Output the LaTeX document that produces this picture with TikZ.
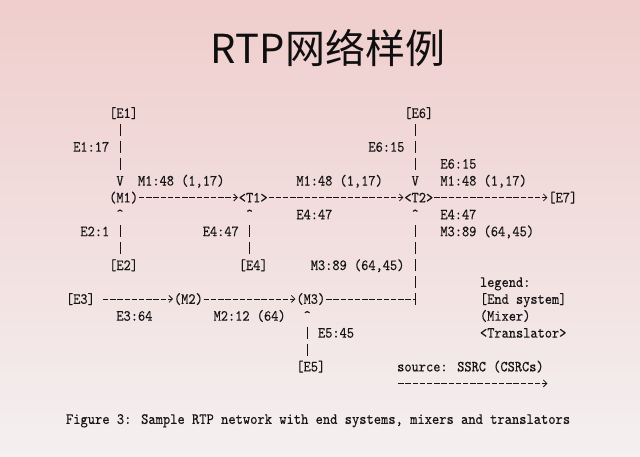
\documentclass[tikz,border=0pt]{standalone}
\usepackage{fontspec}
\usetikzlibrary{arrows.meta}
\newfontfamily\gmono{lmmono10-regular.otf}[FakeStretch=0.885,FakeBold=0.25]
\newfontfamily\cjkfont{Noto Sans CJK SC}
\definecolor{inkc}{RGB}{22,20,20}
\definecolor{titlec}{RGB}{16,14,14}
\definecolor{bgtop}{RGB}{239,206,205}
\definecolor{bgmid}{RGB}{242,222,222}
\definecolor{bgbot}{RGB}{244,240,240}
\tikzset{
  txt/.style={font=\gmono\fontsize{15.5}{16.9}\selectfont, text=inkc, inner sep=0pt, outer sep=0pt,
    text height=13.35pt, text depth=3.55pt, anchor=west},
  hplain/.style={draw=inkc, line width=0.8pt, dash pattern=on 5.4pt off 1.8pt, dash phase=6.3pt},
  hline/.style={hplain, -{Straight Barb[length=3.5pt,width=7pt]}, shorten >=1pt},
  vline/.style={draw=inkc, line width=0.8pt, dash pattern=on 12pt off 4.9pt, dash phase=14.45pt},
}
\begin{document}
\begin{tikzpicture}
\useasboundingbox (0,0) rectangle (640pt,-456pt);
\shade[top color=bgtop, bottom color=bgbot, middle color=bgmid] (0,0) rectangle (640pt,-456pt);
\node[font=\cjkfont\fontsize{40}{48}\selectfont, text=titlec, inner sep=0pt] (title) at (328pt,-48pt) {RTP网络样例};
\node[txt, font=\gmono\fontsize{15.65}{18}\selectfont] (cap) at (66pt,-419pt) {Figure 3: Sample RTP network with end systems, mixers and translators};
\begin{scope}[x=7.2pt, y=-16.9pt, shift={(66pt,-113pt)}]
\node[txt] (E1) at (6,0) {[E1]};
\node[txt] (E6) at (47,0) {[E6]};
\node[txt] (l1) at (1,2) {E1:17};
\node[txt] (l2) at (42,2) {E6:15};
\node[txt] (l3) at (52,3) {E6:15};
\node[txt] (vM1) at (7,4) {V};
\node[txt] (l4) at (10,4) {M1:48 (1,17)};
\node[txt] (l5) at (32,4) {M1:48 (1,17)};
\node[txt] (vT2) at (48,4) {V};
\node[txt] (l6) at (52,4) {M1:48 (1,17)};
\node[txt] (M1) at (6,5) {(M1)};
\node[txt] (T1) at (24,5) {<T1>};
\node[txt] (T2) at (47,5) {<T2>};
\node[txt] (E7) at (67,5) {[E7]};
\node[txt] (cM1) at (7,6) {\textasciicircum};
\node[txt] (cT1) at (25,6) {\textasciicircum};
\node[txt] (l7) at (32,6) {E4:47};
\node[txt] (cT2) at (48,6) {\textasciicircum};
\node[txt] (l8) at (52,6) {E4:47};
\node[txt] (l9) at (2,7) {E2:1};
\node[txt] (l10) at (19,7) {E4:47};
\node[txt] (l11) at (52,7) {M3:89 (64,45)};
\node[txt] (E2) at (6,9) {[E2]};
\node[txt] (E4) at (24,9) {[E4]};
\node[txt] (l12) at (34,9) {M3:89 (64,45)};
\node[txt] (lg1) at (57.5,10) {legend:};
\node[txt] (E3) at (0,11) {[E3]};
\node[txt] (M2) at (15,11) {(M2)};
\node[txt] (M3) at (32,11) {(M3)};
\node[txt] (lg2) at (57.5,11) {[End system]};
\node[txt] (l13) at (7,12) {E3:64};
\node[txt] (l14) at (20.5,12) {M2:12 (64)};
\node[txt] (cM3) at (33,12) {\textasciicircum};
\node[txt] (lg3) at (57.5,12) {(Mixer)};
\node[txt] (l15) at (35,13) {E5:45};
\node[txt] (lg4) at (57.5,13) {<Translator>};
\node[txt] (E5) at (32,15) {[E5]};
\node[txt] (src) at (46,15) {source: SSRC (CSRCs)};
\coordinate (srcA) at (46,16);
\coordinate (srcB) at (67,16);
% vertical connectors
\draw[vline] (E1.south -| vM1.north) -- (vM1.north);
\draw[vline] (E6.south -| vT2.north) -- (vT2.north);
\draw[vline] (cM1.south) -- (cM1.south |- E2.north);
\draw[vline] (cT1.south) -- (cT1.south |- E4.north);
\draw[vline] (cT2.south) -- (cT2.south |- M3.south);
\draw[vline] (cM3.south) -- (cM3.south |- E5.north);
% horizontal connectors
\draw[hline] (M1.east) -- (T1.west);
\draw[hline] (T1.east) -- (T2.west);
\draw[hline] (T2.east) -- (E7.west);
\draw[hline, shorten <=7.2pt] (E3.east) -- (M2.west);
\draw[hline] (M2.east) -- (M3.west);
\draw[hplain] (M3.east) -- (cT2.south |- M3.east);
\draw[hline] (srcA) -- (srcB);
\end{scope}
\end{tikzpicture}
\end{document}
